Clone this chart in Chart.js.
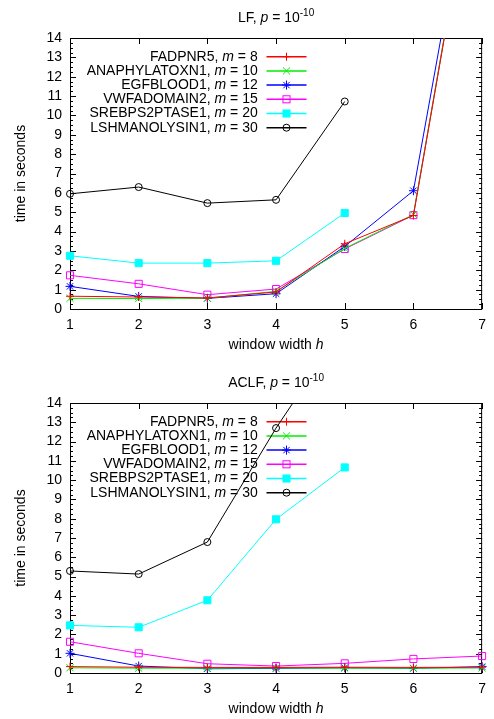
<!DOCTYPE html>
<html>
<head>
<meta charset="utf-8">
<script src="https://cdn.jsdelivr.net/npm/chart.js@4.4.0/dist/chart.umd.min.js"></script>
<style>
  html, body { margin: 0; padding: 0; background: #fff; }
  #wrap { position: relative; width: 494px; height: 719px; }
  .box { position: absolute; left: 0; width: 494px; }
</style>
</head>
<body>
<div id="wrap">
  <div class="box" style="top:0;height:360px"><canvas id="lfChart"></canvas></div>
  <div class="box" style="top:360px;height:359px"><canvas id="aclfChart"></canvas></div>
</div>
<script>
// window width h (x axis)
const windowWidths = [1, 2, 3, 4, 5, 6, 7];
const seriesNames = ["FADPNR5", "ANAPHYLATOXN1", "EGFBLOOD1", "VWFADOMAIN2", "SREBPS2PTASE1", "LSHMANOLYSIN1"];
const motifLengths = [8, 10, 12, 15, 20, 30];
const yTicks = [0, 1, 2, 3, 4, 5, 6, 7, 8, 9, 10, 11, 12, 13, 14];

// LF, time in seconds
const lfFadpnr5 = [0.66, 0.62, 0.57, 0.88, 3.37, 4.83, 25.2];
const lfAnaphylatoxn1 = [0.55, 0.54, 0.56, 0.91, 3.13, 4.88, 25.3];
const lfEgfblood1 = [1.17, 0.65, 0.55, 0.79, 3.23, 6.11, 25.8];
const lfVwfadomain2 = [1.74, 1.30, 0.74, 1.03, 3.10, 4.85, 25.3];
const lfSrebps2ptase1 = [2.75, 2.37, 2.37, 2.49, 4.96];
const lfLshmanolysin1 = [5.95, 6.30, 5.47, 5.64, 10.72];

// ACLF, time in seconds
const aclfFadpnr5 = [0.33, 0.30, 0.29, 0.29, 0.30, 0.29, 0.30];
const aclfAnaphylatoxn1 = [0.27, 0.25, 0.25, 0.26, 0.25, 0.25, 0.26];
const aclfEgfblood1 = [1.02, 0.36, 0.22, 0.24, 0.27, 0.24, 0.33];
const aclfVwfadomain2 = [1.62, 1.02, 0.48, 0.36, 0.50, 0.73, 0.88];
const aclfSrebps2ptase1 = [2.47, 2.37, 3.77, 7.97, 10.66];
const aclfLshmanolysin1 = [5.29, 5.13, 6.79, 12.70, 18.0];

const FONT = '"Liberation Sans", Arial, Helvetica, sans-serif';
const FONT_SIZE = 14;

// gnuplot-ish line styles
const styles = [
  { color: "#ff0000", point: "cross", radius: 4, fill: "rgba(0,0,0,0)" },
  { color: "#00ee00", point: "crossRot", radius: 5, fill: "rgba(0,0,0,0)" },
  { color: "#0000ff", point: "star", radius: 4.5, fill: "rgba(0,0,0,0)" },
  { color: "#ff00ff", point: "rect", radius: 5, fill: "rgba(0,0,0,0)" },
  { color: "#00ffff", point: "rect", radius: 5, fill: "#00ffff" },
  { color: "#000000", point: "circle", radius: 3.5, fill: "rgba(0,0,0,0)" },
];

function buildDatasets(seriesList) {
  return seriesList.map((values, i) => ({
    label: `${seriesNames[i]}, m = ${motifLengths[i]}`,
    seriesName: seriesNames[i],
    motif: motifLengths[i],
    data: values.map((v, k) => ({ x: windowWidths[k], y: v })),
    borderColor: styles[i].color,
    backgroundColor: styles[i].fill,
    pointStyle: styles[i].point,
    pointRadius: styles[i].radius,
    pointBorderWidth: 1,
    pointBorderColor: styles[i].color,
    pointBackgroundColor: styles[i].fill,
    borderWidth: 1,
    tension: 0,
    clip: { left: 8, right: 8, top: 0, bottom: 8 },
  }));
}

// draw a marker by hand (used for the key)
function drawMarker(ctx, style, x, y) {
  const r = style.radius;
  ctx.beginPath();
  ctx.strokeStyle = style.color;
  ctx.lineWidth = 1;
  if (style.point === "cross" || style.point === "star") {
    ctx.moveTo(x - r, y); ctx.lineTo(x + r, y);
    ctx.moveTo(x, y - r); ctx.lineTo(x, y + r);
  }
  if (style.point === "crossRot" || style.point === "star") {
    const d = r * Math.SQRT1_2;
    ctx.moveTo(x - d, y - d); ctx.lineTo(x + d, y + d);
    ctx.moveTo(x - d, y + d); ctx.lineTo(x + d, y - d);
  }
  ctx.stroke();
  if (style.point === "rect") {
    const s = r * Math.SQRT1_2;
    if (style.fill !== "rgba(0,0,0,0)") {
      ctx.fillStyle = style.fill;
      ctx.fillRect(x - s, y - s, 2 * s, 2 * s);
    }
    ctx.strokeRect(x - s, y - s, 2 * s, 2 * s);
  }
  if (style.point === "circle") {
    ctx.beginPath();
    ctx.arc(x, y, r, 0, Math.PI * 2);
    ctx.stroke();
  }
}

// text made of parts, some italic / superscript
function drawParts(ctx, parts, x, y, align) {
  let total = 0;
  parts.forEach((p) => {
    ctx.font = `${p.italic ? "italic " : ""}${p.size || FONT_SIZE}px ${FONT}`;
    p.w = ctx.measureText(p.t).width;
    total += p.w;
  });
  let cx = align === "center" ? x - total / 2 : align === "right" ? x - total : x;
  ctx.textAlign = "left";
  ctx.textBaseline = "middle";
  parts.forEach((p) => {
    ctx.font = `${p.italic ? "italic " : ""}${p.size || FONT_SIZE}px ${FONT}`;
    ctx.fillText(p.t, cx, y - (p.raise || 0));
    cx += p.w;
  });
}

const gnuplotFrame = {
  id: "gnuplotFrame",
  beforeDatasetsDraw(chart, args, opts) {
    const { ctx, chartArea: a, scales } = chart;
    const xs = scales.x, ys = scales.y;
    ctx.save();
    ctx.strokeStyle = "#000";
    ctx.lineWidth = 1;
    ctx.strokeRect(a.left + 0.5, a.top + 0.5, a.right - a.left - 1, a.bottom - a.top);

    // y ticks, major every 1, minor every 0.25, mirrored
    ctx.beginPath();
    for (let k = 0; k <= 56; k++) {
      const py = Math.round(ys.getPixelForValue(k / 4)) + 0.5;
      const len = k % 4 === 0 ? 6 : 3;
      ctx.moveTo(a.left, py); ctx.lineTo(a.left + len, py);
      ctx.moveTo(a.right, py); ctx.lineTo(a.right - len, py);
    }
    // x ticks, mirrored
    windowWidths.forEach((h) => {
      const px = Math.round(xs.getPixelForValue(h)) + 0.5;
      ctx.moveTo(px, a.bottom); ctx.lineTo(px, a.bottom - 6);
      ctx.moveTo(px, a.top); ctx.lineTo(px, a.top + 6);
    });
    ctx.stroke();

    // titles
    ctx.fillStyle = "#000";
    const mid = (a.left + a.right) / 2;
    drawParts(ctx, [
      { t: opts.title + ", " },
      { t: "p", italic: true },
      { t: " = 10" },
      { t: "-10", size: 10, raise: 5 },
    ], mid, a.top - 20, "center");
    drawParts(ctx, [{ t: "window width " }, { t: "h", italic: true }], mid, a.bottom + 36, "center");
    ctx.save();
    ctx.translate(21, (a.top + a.bottom) / 2);
    ctx.rotate(-Math.PI / 2);
    drawParts(ctx, [{ t: "time in seconds" }], 0, 0, "center");
    ctx.restore();

    // key
    chart.data.datasets.forEach((ds, i) => {
      const y = a.top + 18.7 + i * 14.2;
      ctx.fillStyle = "#000";
      drawParts(ctx, [
        { t: ds.seriesName + ", " },
        { t: "m", italic: true },
        { t: " = " + ds.motif },
      ], 257.7, y, "right");
      ctx.beginPath();
      ctx.strokeStyle = styles[i].color;
      ctx.lineWidth = 1.5;
      ctx.moveTo(266.5, y); ctx.lineTo(306.5, y);
      ctx.stroke();
      drawMarker(ctx, styles[i], 286.5, y);
    });
    ctx.restore();
  },
};

function makeChart(canvasId, title, seriesList, top, xHeight) {
  const ctx = document.getElementById(canvasId).getContext("2d");
  return new Chart(ctx, {
    type: "line",
    data: { datasets: buildDatasets(seriesList) },
    options: {
      responsive: true,
      maintainAspectRatio: false,
      animation: false,
      events: [],
      layout: { padding: { left: 0, right: 3, top: top, bottom: 0 } },
      plugins: {
        legend: { display: false },
        title: { display: false },
        tooltip: { enabled: false },
        gnuplotFrame: { title: title },
      },
      scales: {
        x: {
          type: "linear",
          min: 1,
          max: 7,
          afterFit: (s) => { s.height = xHeight; },
          afterBuildTicks: (s) => { s.ticks = windowWidths.map((v) => ({ value: v })); },
          grid: { display: false, drawTicks: false },
          border: { display: false },
          ticks: { color: "#000", padding: 8, maxRotation: 0, autoSkip: false, font: { family: FONT, size: FONT_SIZE } },
        },
        y: {
          type: "linear",
          min: 0,
          max: 14,
          afterFit: (s) => { s.width = 70; },
          afterBuildTicks: (s) => { s.ticks = yTicks.map((v) => ({ value: v })); },
          grid: { display: false, drawTicks: false },
          border: { display: false },
          ticks: { color: "#000", padding: 8, autoSkip: false, font: { family: FONT, size: FONT_SIZE } },
        },
      },
    },
    plugins: [gnuplotFrame],
  });
}

makeChart("lfChart", "LF",
  [lfFadpnr5, lfAnaphylatoxn1, lfEgfblood1, lfVwfadomain2, lfSrebps2ptase1, lfLshmanolysin1], 38, 51);
makeChart("aclfChart", "ACLF",
  [aclfFadpnr5, aclfAnaphylatoxn1, aclfEgfblood1, aclfVwfadomain2, aclfSrebps2ptase1, aclfLshmanolysin1], 43, 46);
</script>
</body>
</html>
